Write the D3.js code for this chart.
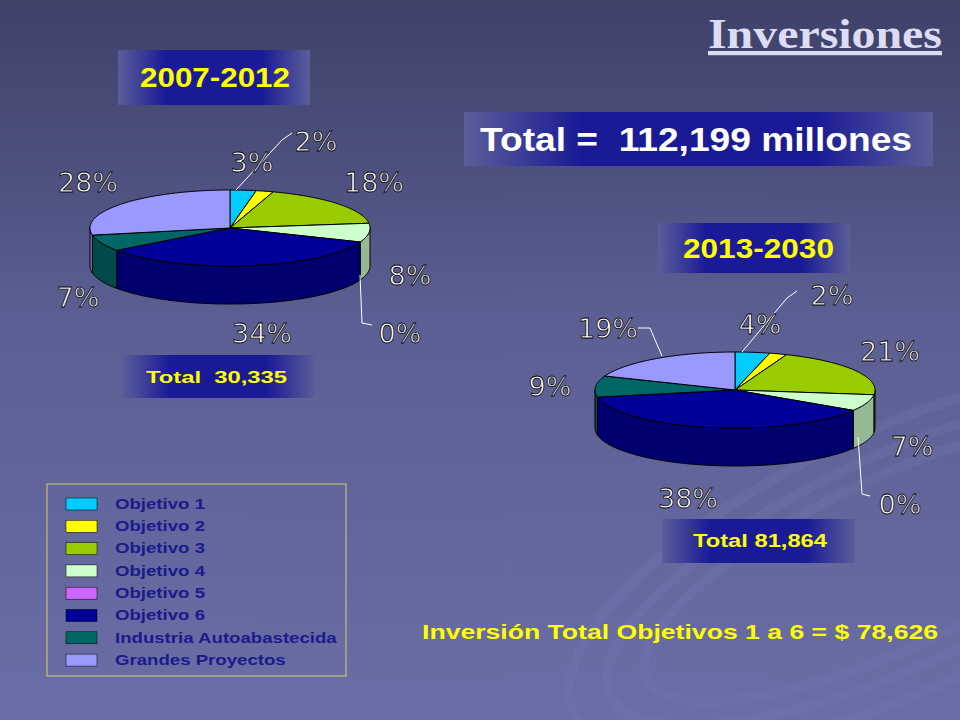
<!DOCTYPE html>
<html><head><meta charset="utf-8">
<script src="https://cdn.jsdelivr.net/npm/d3@7"></script>
<style>body{margin:0;background:#55598a}svg{display:block}</style>
</head><body>
<svg id="c" width="960" height="720"></svg>
<script>
const categories = ["Objetivo 1","Objetivo 2","Objetivo 3","Objetivo 4","Objetivo 5","Objetivo 6","Industria Autoabastecida","Grandes Proyectos"];
const values2007 = [3,2,18,8,0,34,7,28];
const values2013 = [4,2,21,7,0,38,9,19];
const colors = ["#00ccff","#ffff00","#99cc00","#ccffcc","#cc66ff","#000099","#006666","#9999ff"];

const svg = d3.select("#c");
const defs = svg.append("defs");
const bg = defs.append("linearGradient").attr("id","bg").attr("x1",0).attr("y1",0).attr("x2",0).attr("y2",1);
bg.append("stop").attr("offset","0%").attr("stop-color","#3e4168");
bg.append("stop").attr("offset","45%").attr("stop-color","#5b5f93");
bg.append("stop").attr("offset","100%").attr("stop-color","#6a6ea6");
const bx = defs.append("linearGradient").attr("id","box");
[["0%","#5a5e98"],["25%","#1a1a96"],["75%","#1a1a96"],["100%","#5a5e98"]].forEach(s=>bx.append("stop").attr("offset",s[0]).attr("stop-color",s[1]));
svg.append("rect").attr("width",960).attr("height",720).attr("fill","url(#bg)");
[[900,560,360,130],[900,560,320,105],[900,560,280,85]].forEach(d=>{
  svg.append("ellipse").attr("cx",d[0]).attr("cy",d[1]).attr("rx",d[2]).attr("ry",d[3])
   .attr("fill","none").attr("stroke","#7276b0").attr("stroke-width",10).attr("opacity",0.35)
   .attr("transform",`rotate(-25 ${d[0]} ${d[1]})`);
});

svg.append("text").attr("x",708).attr("y",48)
  .attr("font-family","Liberation Serif, serif").attr("font-weight","bold").attr("font-size",42)
  .attr("textLength",234).attr("lengthAdjust","spacingAndGlyphs")
  .attr("fill","#dcdcf4").attr("text-decoration","underline").text("Inversiones");

function box(x,y,w,h,txt,col,fs,tx,tl){
  svg.append("rect").attr("x",x).attr("y",y).attr("width",w).attr("height",h).attr("fill","url(#box)");
  svg.append("text").attr("x",tx).attr("y",y+h/2).attr("dy","0.36em")
    .attr("font-family","Liberation Sans, Arial, sans-serif").attr("font-weight","bold").attr("font-size",fs)
    .attr("textLength",tl).attr("lengthAdjust","spacingAndGlyphs")
    .attr("fill",col).text(txt);
}
box(118,50,192,55,"2007-2012","#ffff00",27,140,150);
box(464,112,469,54,"Total =\u00a0\u00a0112,199 millones","#ffffff",33,480,432);
box(658,223,192,50,"2013-2030","#ffff00",27,683,151);
box(122,355,193,43,"Total\u00a0\u00a030,335","#ffff00",17,146,141);
box(662,519,193,44,"Total 81,864","#ffff00",18,693,134);

const pie = d3.pie().sort(null).value(d=>d);
function pie3d(vals,cx,cy,rx,ry,h,labels,leaders){
  const g = svg.append("g");
  const arcs = pie(vals);
  const pt=(a,dy=0)=>[cx+rx*Math.sin(a), cy-ry*Math.cos(a)+dy];
  function arcPts(a0,a1,dy){const n=Math.max(2,Math.ceil((a1-a0)/0.02));return d3.range(n+1).map(i=>pt(a0+(a1-a0)*i/n,dy));}
  arcs.forEach((d,i)=>{
    const a0=Math.max(d.startAngle,Math.PI/2), a1=Math.min(d.endAngle,3*Math.PI/2);
    if(a1<=a0) return;
    const top=arcPts(a0,a1,0), bot=arcPts(a0,a1,h).reverse();
    g.append("path").attr("d","M"+top.concat(bot).map(p=>p.join(",")).join("L")+"Z")
     .attr("fill",d3.color(colors[i]).darker(0.9)).attr("stroke","#000").attr("stroke-width",1);
  });
  arcs.forEach((d,i)=>{
    if(d.endAngle-d.startAngle<=0) return;
    const p=arcPts(d.startAngle,d.endAngle,0);
    g.append("path").attr("d",`M${cx},${cy}L`+p.map(q=>q.join(",")).join("L")+"Z")
     .attr("fill",colors[i]).attr("stroke","#000").attr("stroke-width",1);
  });
  leaders.forEach(l=>g.append("polyline").attr("points",l.map(p=>p.join(",")).join(" ")).attr("fill","none").attr("stroke","#fff").attr("stroke-width",1));
  labels.forEach((p,i)=>g.append("text").attr("x",p[0]).attr("y",p[1]).attr("text-anchor","middle")
     .attr("font-family","DejaVu Sans, sans-serif").attr("font-size",27).attr("fill","#fff")
     .attr("stroke","#000").attr("stroke-width",0.8).text(vals[i]+"%"));
}
pie3d(values2007,230,228,140,38,38,
  [[252,172],[316,151],[374,192],[410,285],[400,343],[262,343],[78,307],[88,192]],
  [[[292,133],[282,140],[236,190]],[[372,325],[362,323],[360,275]]]);
pie3d(values2013,735,390,140,38,38,
  [[760,334],[832,305],[890,361],[912,456],[900,514],[688,508],[550,396],[608,338]],
  [[[797,291],[787,298],[742,352]],[[870,496],[862,494],[858,437]],[[638,328],[650,328],[662,356]]]);

svg.append("rect").attr("x",47).attr("y",484).attr("width",299).attr("height",192).attr("fill","none").attr("stroke","#d8cc6a").attr("stroke-width",1);
categories.forEach((c,i)=>{
  const y=504+i*22.3;
  svg.append("rect").attr("x",66).attr("y",y-6).attr("width",31).attr("height",12).attr("fill",colors[i]).attr("stroke","#000").attr("stroke-width",0.5);
  svg.append("text").attr("x",115).attr("y",y).attr("dy","0.35em").attr("font-family","Liberation Sans, Arial, sans-serif")
    .attr("font-weight","bold").attr("font-size",14).attr("fill","#1a1a8c")
    .attr("transform",`translate(115,0) scale(1.33,1) translate(-115,0)`).text(c);
});
svg.append("text").attr("x",422).attr("y",639).attr("font-family","Liberation Sans, Arial, sans-serif")
  .attr("font-weight","bold").attr("font-size",21).attr("fill","#ffff00")
  .attr("textLength",516).attr("lengthAdjust","spacingAndGlyphs").text("Inversión Total Objetivos 1 a 6 = $ 78,626");
</script></body></html>
